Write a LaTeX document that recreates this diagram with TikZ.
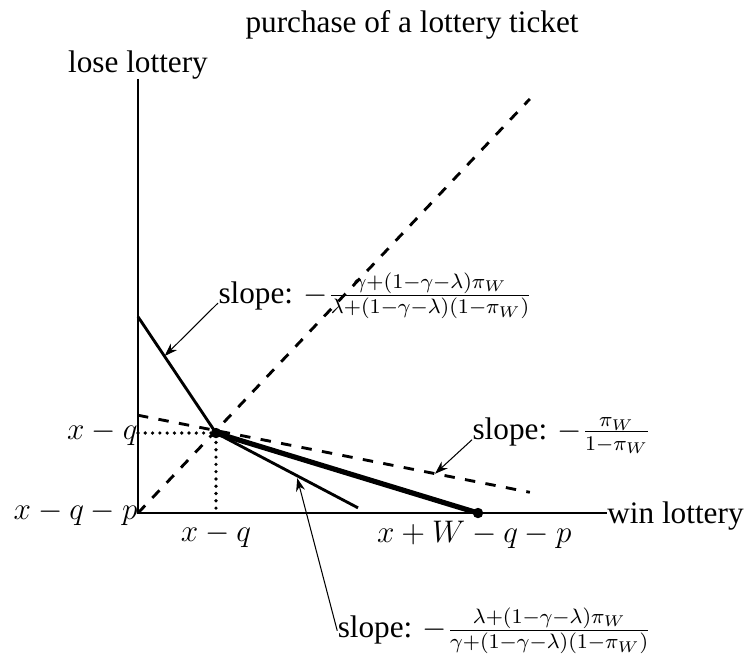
\documentclass[tikz,border=0pt,12pt]{standalone}
\usepackage{fontspec}
\setmainfont{Liberation Serif}
\usetikzlibrary{arrows.meta, positioning, calc}

\begin{document}
\begin{tikzpicture}[
  axis/.style={line width=1.1pt},
  budget/.style={line width=1.1pt},
  budgetthick/.style={line width=2pt},
  dashln/.style={line width=1.1pt, dash pattern=on 4pt off 4pt},
  dotln/.style={line width=1.4pt, line cap=round, dash pattern=on 0pt off 2.8pt},
  lead/.style={-{Stealth[length=5pt, width=3.5pt]}, line width=0.4pt},
  pt/.style={circle, fill, inner sep=0pt, minimum size=4pt},
  lbl/.style={inner sep=0pt}
]
\useasboundingbox (-1.863,-1.944) rectangle (8.262,6.926);

\coordinate (O)    at (0,0);
\coordinate (ytop) at (0,5.86);
\coordinate (xend) at (6.33,0);
\coordinate (diag) at (5.29,5.59);
\coordinate (ia)   at (0,1.32);
\coordinate (ib)   at (5.29,0.28);
\coordinate (ka)   at (0,2.65);
\coordinate (kb)   at (2.97,0.07);
\coordinate (tipA) at (0.36,2.12);
\coordinate (tipB) at (2.15,0.47);
\coordinate (tipC) at (4.01,0.53);

\node[pt] (E) at (1.053,1.08) {};
\node[pt] (F) at (4.59,0) {};

\draw[axis] (ytop) -- (O) -- (xend);
\draw[dashln] (O) -- (diag);
\draw[dashln] (ia) -- (ib);
\draw[dotln] (0,1.08) -- (E.center) -- (1.053,0);
\draw[budget] (ka) -- (E.center) -- (kb);
\draw[budgetthick] (E.center) -- (F.center);

\node[lbl, anchor=base] (title) at (3.70,6.49) {purchase of a lottery ticket};
\node[lbl, anchor=base] (lose)  at (0,5.95) {lose lottery};
\node[lbl, right, yshift=-1pt] (win) at (xend) {win lottery};
\node[lbl, left]  (yq)  at (0,1.08) {$x-q$};
\node[lbl, left]  (yqp) at (O) {$x-q-p$};
\node[lbl] (xq) at (1.053,-0.30) {$x-q$};
\node[lbl] (xw) at (4.54,-0.30) {$x+W-q-p$};

\node[lbl, anchor=base west] (sa) at (1.08,2.835)
  {slope: $-\frac{\gamma+(1-\gamma-\lambda)\pi_W}{\lambda+(1-\gamma-\lambda)(1-\pi_W)}$};
\node[lbl, anchor=west] (sb) at (2.69,-1.59)
  {slope: $-\frac{\lambda+(1-\gamma-\lambda)\pi_W}{\gamma+(1-\gamma-\lambda)(1-\pi_W)}$};
\node[lbl, anchor=base west] (sc) at (4.51,0.99)
  {slope: $-\frac{\pi_W}{1-\pi_W}$};

\draw[lead] (sa.base west) -- (tipA);
\draw[lead] (sb.west) -- (tipB);
\draw[lead] (sc.base west) -- (tipC);
\end{tikzpicture}
\end{document}
